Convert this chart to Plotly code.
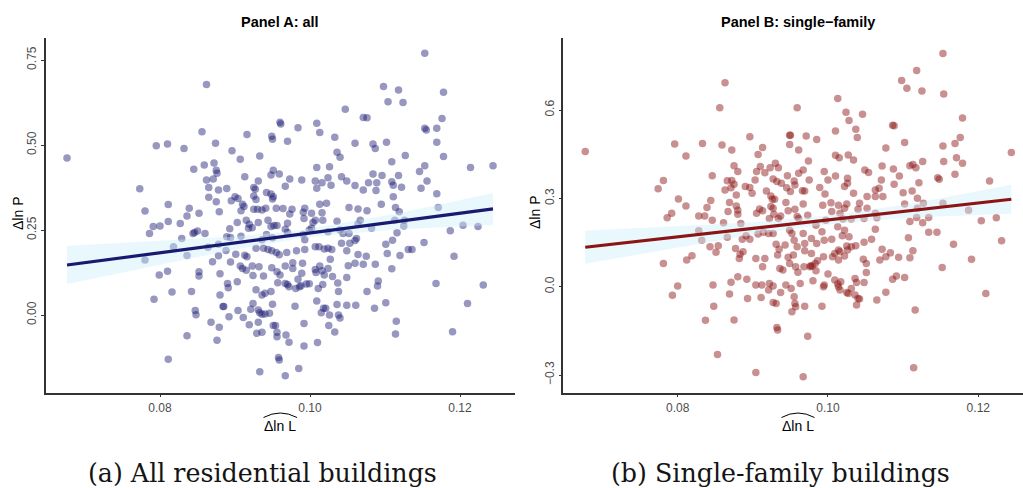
import plotly.graph_objects as go

# ---------------- data ----------------
panel_a_points = [
(0.1153,0.770),(0.0862,0.678),(0.1098,0.672),(0.1118,0.662),(0.1178,0.655),(0.1104,0.627),(0.1124,0.625),(0.1047,0.605),(0.1071,0.581),(0.1076,0.580),
(0.1176,0.578),(0.0960,0.567),(0.0961,0.562),(0.0984,0.551),(0.1009,0.564),(0.1153,0.549),(0.1155,0.544),(0.1169,0.549),(0.0856,0.539),(0.0916,0.531),
(0.1013,0.537),(0.0949,0.526),(0.0950,0.517),(0.1033,0.523),(0.0970,0.511),(0.1060,0.505),(0.1102,0.508),(0.1084,0.503),(0.1169,0.508),(0.0795,0.498),
(0.0810,0.503),(0.0874,0.505),(0.0832,0.490),(0.1087,0.490),(0.0896,0.483),(0.1036,0.479),(0.1040,0.464),(0.0933,0.468),(0.1127,0.469),(0.1178,0.466),
(0.0676,0.462),(0.0907,0.458),(0.1109,0.451),(0.0859,0.441),(0.0872,0.447),(0.0845,0.429),(0.0875,0.426),(0.0876,0.417),(0.0951,0.426),(0.0959,0.415),
(0.1009,0.434),(0.1026,0.436),(0.1153,0.439),(0.1146,0.422),(0.1214,0.434),(0.1244,0.439),(0.0913,0.407),(0.0948,0.412),(0.0862,0.397),(0.0871,0.400),
(0.0931,0.394),(0.0973,0.400),(0.0989,0.397),(0.1007,0.394),(0.1016,0.389),(0.1024,0.404),(0.1042,0.407),(0.1049,0.394),(0.1084,0.415),(0.1096,0.410),
(0.1118,0.410),(0.1156,0.394),(0.1109,0.392),(0.1111,0.382),(0.1060,0.381),(0.1078,0.389),(0.1089,0.389),(0.1122,0.376),(0.0773,0.371),(0.0865,0.375),
(0.0878,0.368),(0.0889,0.372),(0.0925,0.375),(0.0927,0.370),(0.0942,0.360),(0.0948,0.356),(0.0967,0.379),(0.1009,0.373),(0.1028,0.382),(0.1071,0.368),
(0.1088,0.366),(0.1148,0.373),(0.1169,0.357),(0.0865,0.346),(0.0900,0.348),(0.0904,0.343),(0.0895,0.336),(0.0875,0.333),(0.0925,0.350),(0.0928,0.340),
(0.0951,0.348),(0.0950,0.341),(0.1111,0.348),(0.1095,0.326),(0.0811,0.325),(0.0780,0.306),(0.0839,0.314),(0.0879,0.304),(0.0910,0.326),(0.0912,0.319),
(0.0908,0.307),(0.0925,0.311),(0.0930,0.311),(0.0936,0.309),(0.0941,0.314),(0.0955,0.314),(0.0964,0.313),(0.0976,0.311),(0.0993,0.314),(0.0991,0.302),
(0.1002,0.299),(0.1013,0.326),(0.1022,0.329),(0.1016,0.301),(0.1052,0.316),(0.1064,0.312),(0.1076,0.307),(0.1114,0.316),(0.1119,0.304),(0.1171,0.316),
(0.0811,0.275),(0.0827,0.269),(0.0791,0.260),(0.0800,0.262),(0.0836,0.291),(0.0852,0.299),(0.0903,0.272),(0.0915,0.279),(0.0919,0.267),(0.0918,0.255),
(0.0923,0.257),(0.0931,0.272),(0.0944,0.279),(0.0948,0.260),(0.0952,0.263),(0.0956,0.263),(0.0973,0.297),(0.0970,0.270),(0.1007,0.279),(0.1004,0.272),
(0.0992,0.284),(0.1002,0.255),(0.1017,0.279),(0.1036,0.276),(0.1067,0.279),(0.1064,0.268),(0.1113,0.279),(0.1126,0.279),(0.1125,0.262),(0.0786,0.240),
(0.0846,0.243),(0.0844,0.240),(0.0850,0.247),(0.0860,0.240),(0.0893,0.254),(0.0829,0.225),(0.0818,0.201),(0.0889,0.230),(0.0894,0.228),(0.0908,0.232),
(0.0936,0.221),(0.0942,0.237),(0.0950,0.227),(0.0967,0.252),(0.0970,0.243),(0.0991,0.237),(0.0993,0.221),(0.0999,0.250),(0.1024,0.245),(0.1040,0.250),
(0.1044,0.240),(0.1052,0.240),(0.1062,0.225),(0.1060,0.219),(0.1053,0.211),(0.1042,0.211),(0.1082,0.255),(0.1116,0.242),(0.1187,0.248),(0.1204,0.264),
(0.1224,0.260),(0.1152,0.213),(0.0836,0.175),(0.0780,0.162),(0.0864,0.199),(0.0878,0.208),(0.0888,0.190),(0.0901,0.179),(0.0913,0.176),(0.0916,0.171),
(0.0928,0.196),(0.0938,0.196),(0.0944,0.193),(0.0949,0.189),(0.0955,0.184),(0.0959,0.177),(0.0969,0.184),(0.0982,0.189),(0.0993,0.193),(0.1007,0.201),
(0.1012,0.201),(0.1019,0.194),(0.1024,0.196),(0.1029,0.193),(0.1049,0.189),(0.1064,0.178),(0.1075,0.173),(0.1103,0.181),(0.1101,0.208),(0.1110,0.220),
(0.1120,0.175),(0.1131,0.193),(0.1136,0.193),(0.1192,0.173),(0.0799,0.118),(0.0810,0.129),(0.0852,0.127),(0.0852,0.115),(0.0870,0.157),(0.0878,0.174),
(0.0880,0.121),(0.0894,0.156),(0.0907,0.144),(0.0910,0.137),(0.0915,0.132),(0.0923,0.144),(0.0932,0.142),(0.0924,0.116),(0.0938,0.115),(0.0949,0.139),
(0.0956,0.127),(0.0960,0.118),(0.0967,0.144),(0.0977,0.154),(0.0977,0.137),(0.0990,0.152),(0.0989,0.123),(0.1007,0.134),(0.1008,0.125),(0.1013,0.144),
(0.1016,0.130),(0.1019,0.118),(0.1024,0.137),(0.1027,0.164),(0.1030,0.113),(0.1051,0.145),(0.1049,0.110),(0.1060,0.152),(0.1071,0.149),(0.1087,0.149),
(0.1109,0.136),(0.0792,0.046),(0.0816,0.068),(0.0842,0.069),(0.0880,0.059),(0.0890,0.093),(0.0891,0.080),(0.0903,0.098),(0.0928,0.074),(0.0936,0.059),
(0.0940,0.064),(0.0948,0.069),(0.0957,0.095),(0.0967,0.093),(0.0970,0.090),(0.0972,0.083),(0.0981,0.078),(0.0984,0.105),(0.0986,0.083),(0.0988,0.086),
(0.0995,0.091),(0.0999,0.092),(0.1011,0.078),(0.1017,0.090),(0.1037,0.094),(0.1038,0.069),(0.1076,0.069),(0.1091,0.100),(0.1090,0.085),(0.1168,0.093),
(0.1231,0.088),(0.0847,0.013),(0.0848,0.001),(0.0884,0.025),(0.0885,0.025),(0.0892,-0.005),(0.0904,0.013),(0.0911,-0.007),(0.0924,0.034),(0.0921,0.017),
(0.0931,0.015),(0.0933,0.007),(0.0936,0.002),(0.0940,0.003),(0.0946,0.005),(0.0950,0.032),(0.0980,0.026),(0.1009,0.041),(0.1015,0.007),(0.1018,0.020),
(0.1021,0.020),(0.1026,0.000),(0.1036,0.031),(0.1038,0.000),(0.1040,-0.009),(0.1049,0.029),(0.1061,0.029),(0.1086,0.020),(0.1101,0.036),(0.1210,0.034),
(0.0836,-0.061),(0.0868,-0.021),(0.0879,-0.036),(0.0876,-0.074),(0.0919,-0.029),(0.0931,-0.021),(0.0929,-0.054),(0.0936,-0.051),(0.0951,-0.031),(0.0954,-0.031),
(0.0956,-0.064),(0.0956,-0.051),(0.0968,-0.059),(0.0972,-0.080),(0.0992,-0.025),(0.0992,-0.091),(0.1010,-0.081),(0.1025,-0.031),(0.1033,-0.050),(0.1115,-0.018),
(0.1114,-0.056),(0.1190,-0.049),(0.0811,-0.130),(0.0933,-0.167),(0.0958,-0.125),(0.0959,-0.132),(0.0967,-0.179),(0.0985,-0.157),
]

panel_b_points = [
(0.1153,0.792),(0.1118,0.734),(0.0863,0.693),(0.1098,0.700),(0.1105,0.674),(0.1125,0.665),(0.1154,0.654),(0.1013,0.639),(0.0856,0.608),(0.0959,0.608),
(0.1024,0.592),(0.1046,0.586),(0.1179,0.573),(0.1028,0.564),(0.1086,0.548),(0.1088,0.547),(0.1010,0.529),(0.1037,0.535),(0.1039,0.507),(0.0949,0.514),
(0.0950,0.514),(0.0971,0.512),(0.0896,0.509),(0.0985,0.500),(0.1176,0.507),(0.0796,0.485),(0.0833,0.486),(0.0859,0.481),(0.0949,0.483),(0.1102,0.490),
(0.1153,0.478),(0.1169,0.486),(0.0677,0.459),(0.0811,0.444),(0.0872,0.464),(0.0907,0.449),(0.0913,0.473),(0.0961,0.464),(0.1010,0.446),(0.1015,0.438),
(0.1027,0.447),(0.1034,0.430),(0.1077,0.471),(0.1244,0.456),(0.1171,0.438),(0.1154,0.425),(0.1179,0.419),(0.1126,0.425),(0.1113,0.415),(0.1109,0.411),
(0.1117,0.404),(0.0875,0.411),(0.0880,0.391),(0.0910,0.408),(0.0923,0.404),(0.0930,0.419),(0.0934,0.404),(0.0905,0.391),(0.0916,0.387),(0.0903,0.362),
(0.0927,0.366),(0.0974,0.427),(0.0967,0.396),(0.0961,0.385),(0.0946,0.377),(0.0955,0.359),(0.0975,0.362),(0.0995,0.391),(0.1000,0.362),(0.1010,0.376),
(0.1026,0.368),(0.1049,0.396),(0.1054,0.388),(0.1072,0.410),(0.1087,0.400),(0.1095,0.376),(0.1071,0.362),(0.1088,0.348),(0.1121,0.353),(0.1146,0.370),
(0.1148,0.365),(0.1169,0.382),(0.1215,0.359),(0.0774,0.333),(0.0781,0.361),(0.0846,0.377),(0.0866,0.360),(0.0872,0.361),(0.0871,0.336),(0.0875,0.348),
(0.0863,0.328),(0.0878,0.311),(0.0890,0.340),(0.0896,0.337),(0.0899,0.317),(0.0918,0.325),(0.0924,0.308),(0.0926,0.297),(0.0929,0.297),(0.0932,0.357),
(0.0938,0.351),(0.0945,0.336),(0.0950,0.323),(0.0956,0.345),(0.0966,0.326),(0.0969,0.325),(0.0989,0.337),(0.0996,0.315),(0.1022,0.340),(0.1026,0.351),
(0.1034,0.317),(0.1063,0.328),(0.1063,0.306),(0.1073,0.306),(0.1068,0.334),(0.1052,0.306),(0.1100,0.319),(0.1112,0.325),(0.1119,0.300),(0.0811,0.274),
(0.0801,0.298),(0.0792,0.249),(0.0786,0.234),(0.0844,0.293),(0.0839,0.269),(0.0828,0.240),(0.0836,0.240),(0.0846,0.226),(0.0861,0.217),(0.0867,0.255),
(0.0869,0.286),(0.0878,0.274),(0.0880,0.260),(0.0880,0.246),(0.0884,0.215),(0.0905,0.249),(0.0909,0.264),(0.0913,0.258),(0.0924,0.272),(0.0927,0.266),
(0.0922,0.232),(0.0928,0.246),(0.0934,0.232),(0.0937,0.240),(0.0944,0.286),(0.0947,0.258),(0.0956,0.263),(0.0959,0.238),(0.0961,0.232),(0.0967,0.281),
(0.0973,0.243),(0.0984,0.209),(0.0993,0.277),(0.0997,0.226),(0.1004,0.285),(0.1005,0.255),(0.1014,0.277),(0.1016,0.249),(0.1022,0.266),(0.1025,0.281),
(0.1020,0.230),(0.1031,0.230),(0.1042,0.283),(0.1040,0.263),(0.1048,0.232),(0.1052,0.266),(0.1063,0.249),(0.1065,0.234),(0.1102,0.281),(0.1109,0.221),
(0.1119,0.266),(0.1118,0.235),(0.1127,0.283),(0.1134,0.235),(0.1126,0.217),(0.1153,0.283),(0.1187,0.260),(0.1204,0.224),(0.1224,0.234),(0.0828,0.190),
(0.0832,0.158),(0.0843,0.136),(0.0851,0.117),(0.0854,0.139),(0.0866,0.168),(0.0877,0.130),(0.0886,0.161),(0.0883,0.110),(0.0882,0.096),(0.0887,0.119),
(0.0891,0.173),(0.0896,0.161),(0.0907,0.179),(0.0914,0.185),(0.0921,0.181),(0.0927,0.181),(0.0931,0.144),(0.0933,0.108),(0.0935,0.127),(0.0943,0.142),
(0.0949,0.192),(0.0952,0.181),(0.0955,0.158),(0.0954,0.108),(0.0959,0.136),(0.0967,0.181),(0.0969,0.147),(0.0969,0.122),(0.0978,0.164),(0.0978,0.113),
(0.0985,0.147),(0.0992,0.187),(0.0995,0.158),(0.1005,0.161),(0.1009,0.113),(0.1013,0.204),(0.1014,0.125),(0.1016,0.119),(0.1019,0.173),(0.1022,0.192),
(0.1025,0.138),(0.1026,0.125),(0.1028,0.170),(0.1031,0.136),(0.1037,0.139),(0.1048,0.151),(0.1058,0.161),(0.1063,0.195),(0.1072,0.127),(0.1077,0.102),
(0.1083,0.115),(0.1094,0.100),(0.1107,0.166),(0.1113,0.122),(0.1109,0.098),(0.1134,0.185),(0.1145,0.185),(0.1167,0.144),(0.1231,0.156),(0.1191,0.093),
(0.0781,0.079),(0.0812,0.091),(0.0819,0.105),(0.0880,0.034),(0.0892,0.025),(0.0904,0.096),(0.0913,0.068),(0.0916,0.096),(0.0936,0.062),(0.0940,0.057),
(0.0947,0.100),(0.0949,0.079),(0.0957,0.068),(0.0960,0.049),(0.0968,0.068),(0.0976,0.068),(0.0979,0.070),(0.0977,0.071),(0.0983,0.079),(0.0986,0.088),
(0.0984,0.054),(0.0994,0.102),(0.1000,0.043),(0.1009,0.023),(0.1006,0.102),(0.1014,0.091),(0.1013,0.009),(0.1017,0.017),(0.1022,0.104),(0.1036,0.028),
(0.1038,0.014),(0.1048,0.014),(0.1051,0.048),(0.1051,0.079),(0.1047,0.093),(0.1069,0.091),(0.1086,0.025),(0.1091,0.036),(0.1102,0.031),(0.1152,0.065),
(0.0793,-0.029),(0.0800,0.002),(0.0847,0.006),(0.0848,-0.066),(0.0869,-0.025),(0.0871,0.015),(0.0837,-0.114),(0.0853,-0.230),(0.0875,-0.113),(0.0893,-0.040),
(0.0904,0.006),(0.0912,0.006),(0.0911,-0.037),(0.0921,-0.011),(0.0922,0.011),(0.0927,0.002),(0.0927,-0.054),(0.0931,-0.057),(0.0937,-0.020),(0.0932,-0.139),
(0.0933,-0.147),(0.0944,0.006),(0.0951,-0.006),(0.0952,-0.085),(0.0955,-0.034),(0.0956,-0.057),(0.0957,-0.068),(0.0963,0.011),(0.0969,-0.066),(0.0973,-0.168),
(0.0967,-0.306),(0.0904,-0.291),(0.0980,0.020),(0.0992,-0.066),(0.0994,0.000),(0.0995,0.006),(0.1014,0.000),(0.1016,-0.011),(0.1025,-0.020),(0.1027,-0.023),
(0.1031,-0.006),(0.1036,-0.028),(0.1040,-0.040),(0.1038,-0.062),(0.1042,-0.042),(0.1065,-0.045),(0.1077,-0.019),(0.1116,-0.079),(0.1114,-0.275),(0.1210,-0.023),
]

# fitted lines (endpoints) and confidence band
fit_a_x = [0.0676, 0.1244]
fit_a_y = [0.147, 0.312]
fit_b_x = [0.0677, 0.1244]
fit_b_y = [0.134, 0.297]

band_a_x = [0.0676, 0.080, 0.090, 0.0986, 0.105, 0.112, 0.1244]
band_a_lo = [0.091, 0.148, 0.193, 0.225, 0.240, 0.252, 0.265]
band_a_hi = [0.203, 0.218, 0.231, 0.249, 0.273, 0.300, 0.359]

band_b_x = [0.0677, 0.080, 0.090, 0.0986, 0.105, 0.112, 0.1244]
band_b_lo = [0.078, 0.133, 0.177, 0.208, 0.223, 0.236, 0.248]
band_b_hi = [0.190, 0.205, 0.219, 0.238, 0.259, 0.286, 0.346]

ticks_x = [0.08, 0.10, 0.12]
ticks_x_text = ["0.08", "0.10", "0.12"]
ticks_a_y = [0.0, 0.25, 0.5, 0.75]
ticks_a_y_text = ["0.00", "0.25", "0.50", "0.75"]
ticks_b_y = [-0.3, 0.0, 0.3, 0.6]
ticks_b_y_text = ["\u22120.3", "0.0", "0.3", "0.6"]

# ---------------- figure ----------------
W, H = 1023, 488
def px(x): return x / W
def py(y): return (H - y) / H

ax, ay = zip(*panel_a_points)
bx, by = zip(*panel_b_points)

fig = go.Figure()
BAND = "rgba(200,238,250,0.42)"

def add_panel(xs, ys, col, fx, fy, bxs, blo, bhi, lcol, xa, ya):
    fig.add_trace(go.Scatter(x=list(xs), y=list(ys), mode="markers", xaxis=xa, yaxis=ya,
                             marker=dict(size=7.5, color=col, line=dict(width=0)),
                             showlegend=False, hoverinfo="skip"))
    fig.add_trace(go.Scatter(x=bxs + bxs[::-1], y=bhi + blo[::-1], mode="lines", fill="toself",
                             fillcolor=BAND, line=dict(width=0), xaxis=xa, yaxis=ya,
                             showlegend=False, hoverinfo="skip"))
    fig.add_trace(go.Scatter(x=fx, y=fy, mode="lines", line=dict(color=lcol, width=3.2),
                             xaxis=xa, yaxis=ya, showlegend=False, hoverinfo="skip"))

add_panel(ax, ay, "rgba(25,25,112,0.45)", fit_a_x, fit_a_y, band_a_x, band_a_lo, band_a_hi,
          "#191970", "x", "y")
add_panel(bx, by, "rgba(139,20,20,0.47)", fit_b_x, fit_b_y, band_b_x, band_b_lo, band_b_hi,
          "#8B1414", "x2", "y2")

AX = dict(showline=True, linecolor="#333333", linewidth=1.5, ticks="outside", ticklen=3,
          tickwidth=1.2, tickcolor="#333333", showgrid=False, zeroline=False,
          tickfont=dict(family="Liberation Sans, Arial, sans-serif", size=12, color="#4d4d4d"),
          fixedrange=True)

ydom = [py(392.7), py(37.7)]
fig.update_layout(
    width=W, height=H, margin=dict(l=0, r=0, t=0, b=0),
    paper_bgcolor="white", plot_bgcolor="white",
    xaxis=dict(AX, domain=[px(45.7), px(515)], range=[0.06476, 0.12733], anchor="y",
               tickvals=ticks_x, ticktext=ticks_x_text),
    yaxis=dict(AX, domain=ydom, range=[-0.2285, 0.8156], anchor="x",
               tickvals=ticks_a_y, ticktext=ticks_a_y_text, tickangle=-90),
    xaxis2=dict(AX, domain=[px(563.3), 1.0], range=[0.06478, 0.12595], anchor="y2",
                tickvals=ticks_x, ticktext=ticks_x_text),
    yaxis2=dict(AX, domain=ydom, range=[-0.360, 0.8456], anchor="x2",
                tickvals=ticks_b_y, ticktext=ticks_b_y_text, tickangle=-90),
)

SANS = "Liberation Sans, Arial, sans-serif"
SERIF = "DejaVu Serif, Liberation Serif, serif"
ann = []
def add_text(x, y, text, size, family=SANS, color="black", angle=0, bold=False):
    t = f"<b>{text}</b>" if bold else text
    ann.append(dict(x=px(x), y=py(y), xref="paper", yref="paper", text=t, showarrow=False,
                    xanchor="center", yanchor="middle", textangle=angle,
                    font=dict(family=family, size=size, color=color)))

add_text(280.4, 22, "Panel A: all", 14.5, bold=True)
add_text(798.0, 22, "Panel B: single\u2212family", 14.5, bold=True)
add_text(18, 214, "\u0394ln P", 14, angle=-90)
add_text(535, 213, "\u0394ln P", 14, angle=-90)
add_text(280.4, 426, "\u0394ln L", 14)
add_text(798.0, 426, "\u0394ln L", 14)
add_text(262, 473.5, "(a) All residential buildings", 25.3, family=SERIF, color="#141414")
add_text(780, 473.5, "(b) Single-family buildings", 25.3, family=SERIF, color="#141414")
fig.update_layout(annotations=ann)

# wide hats over the x-axis titles
shapes = []
for x0, x1 in [(263.5, 297.0), (781.5, 814.5)]:
    xm = (x0 + x1) / 2
    shapes.append(dict(type="path", xref="paper", yref="paper",
                       path=f"M {px(x0)},{py(417.5)} Q {px(xm)},{py(408.5)} {px(x1)},{py(417.5)}",
                       line=dict(color="black", width=1)))
fig.update_layout(shapes=shapes)

fig.write_html("out.html", config={"displayModeBar": False},
               post_script="document.body.style.margin='0px';")
